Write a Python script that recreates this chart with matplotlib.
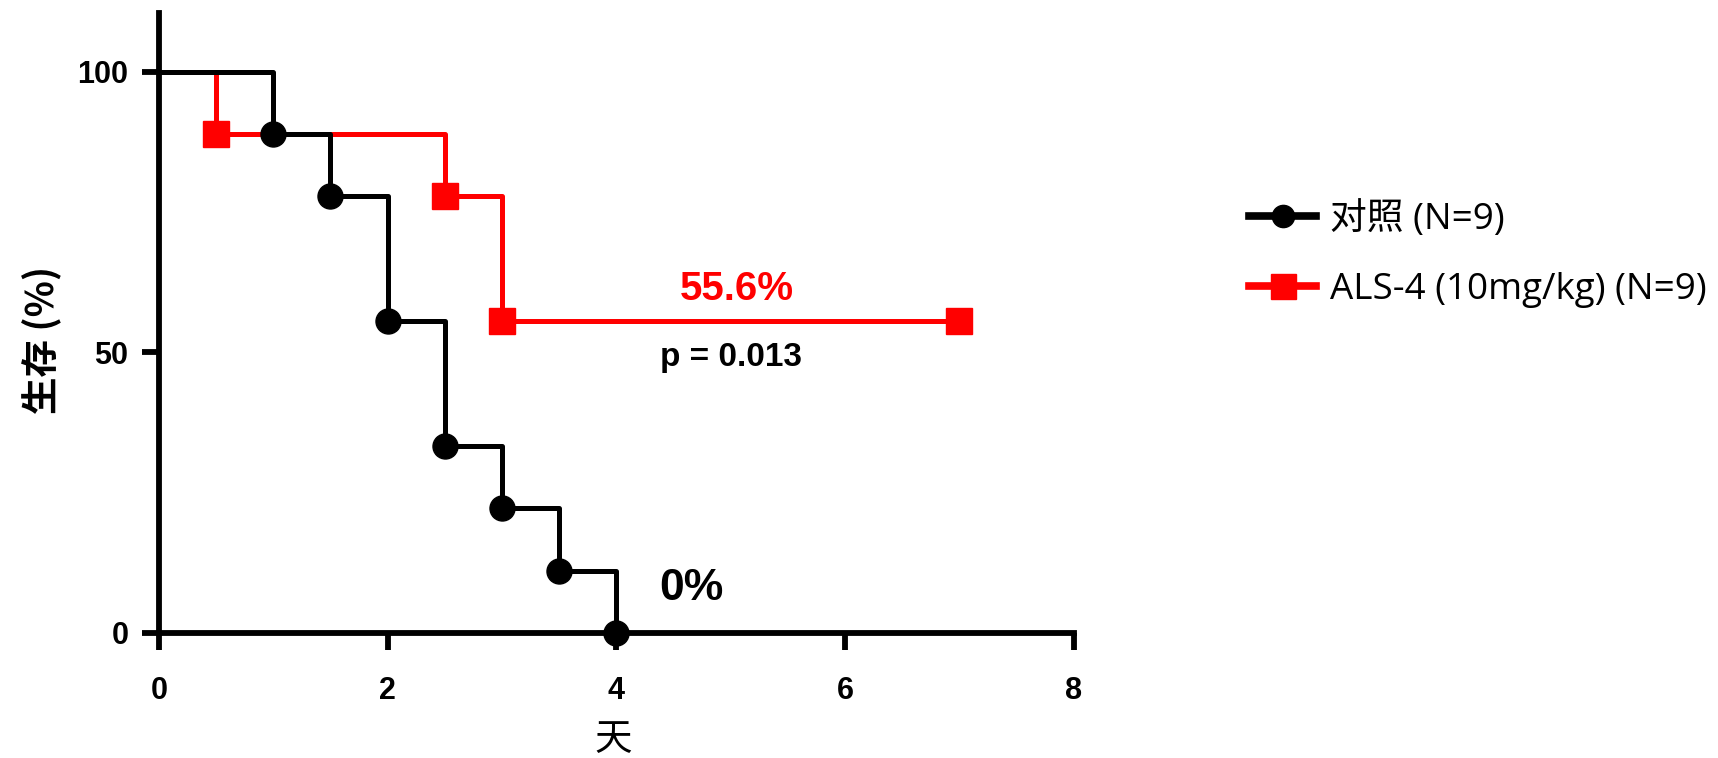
import matplotlib
matplotlib.use("Agg")
import matplotlib.pyplot as plt
from matplotlib import font_manager

# Kaplan-Meier steps (days, survival %)
ctrl_days = [0, 1, 1.5, 2, 2.5, 3, 3.5, 4]
ctrl_surv = [100, 88.9, 77.8, 55.6, 33.3, 22.2, 11.1, 0]
als_days = [0, 0.5, 2.5, 3, 7]
als_surv = [100, 88.9, 77.8, 55.6, 55.6]

ctrl_label = "对照 (N=9)"
als_label = "ALS-4 (10mg/kg) (N=9)"
x_ticks = [0, 2, 4, 6, 8]
y_ticks = [0, 50, 100]

leg_font = ["Open Sans", "Noto Sans CJK SC", "DejaVu Sans"]
names = {f.name for f in font_manager.fontManager.ttflist}
narrow = "Liberation Sans Narrow" if "Liberation Sans Narrow" in names else "Liberation Sans"

fig = plt.figure(figsize=(17.18, 7.58), dpi=100)
ax = fig.add_axes([0.0925, 0.165, 0.5325, 0.818])

ax.step(als_days, als_surv, where="post", color="red", lw=3.6, zorder=3)
ax.plot(als_days[1:], als_surv[1:], ls="none", marker="s", ms=19, color="red",
        zorder=3, clip_on=False)
ax.step(ctrl_days, ctrl_surv, where="post", color="black", lw=3.6, zorder=4)
ax.plot(ctrl_days[1:], ctrl_surv[1:], ls="none", marker="o", ms=18, color="black",
        zorder=5, clip_on=False)

# legend handles
h1, = ax.plot([], [], color="black", lw=5.5, marker="o", ms=16)
h2, = ax.plot([], [], color="red", lw=5.5, marker="s", ms=18)
fig.legend([h1, h2], [ctrl_label, als_label], loc="upper left",
           bbox_to_anchor=(0.708, 0.779), frameon=False, handlelength=1.8,
           handletextpad=0.4, labelspacing=0.93,
           prop={"family": leg_font, "size": 26.5})

ax.set_xlim(0, 8)
ax.set_ylim(0, 110.5)
ax.set_xticks(x_ticks)
ax.set_yticks(y_ticks)
for s in ["top", "right"]:
    ax.spines[s].set_visible(False)
for s in ["left", "bottom"]:
    ax.spines[s].set_linewidth(4.2)
ax.tick_params(axis="both", length=12, width=4.2)
ax.tick_params(axis="x", pad=19)
ax.tick_params(axis="y", pad=10)
for lab in ax.get_xticklabels() + ax.get_yticklabels():
    lab.set_fontfamily("Liberation Sans")
    lab.set_fontweight("bold")
    lab.set_fontsize(22)

ax.text(5.05, 61.3, "55.6%", color="red", fontsize=29, fontweight="bold",
        family="Liberation Sans", ha="center", va="center")
ax.text(5.0, 49, "p = 0.013", color="black", fontsize=24, fontweight="bold",
        family="Liberation Sans", ha="center", va="center")
ax.text(4.66, 8, "0%", color="black", fontsize=32, fontweight="bold",
        family=narrow, ha="center", va="center")

fig.text(0.0245, 0.552, "生存 (%)", rotation=90, ha="center", va="center",
         fontsize=27, fontweight="bold", family=["Noto Sans CJK SC", "DejaVu Sans"])
fig.text(0.357, 0.024, "天", ha="center", va="center", fontsize=27,
         family=["Noto Sans CJK SC", "DejaVu Sans"])

fig.savefig("out.png", dpi=100)
